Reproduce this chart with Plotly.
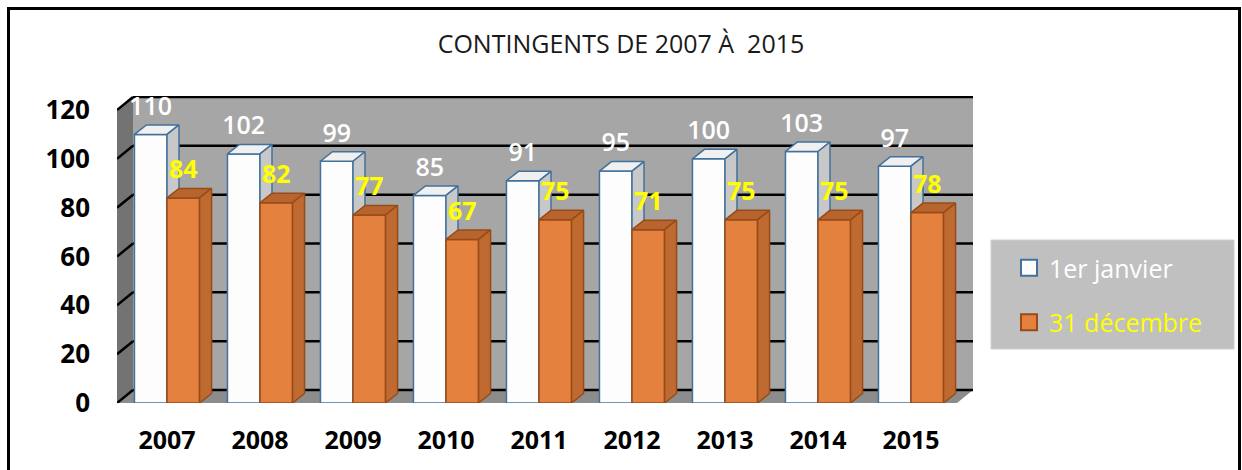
import plotly.graph_objects as go

years = ['2007', '2008', '2009', '2010', '2011', '2012', '2013', '2014', '2015']
janvier = [110, 102, 99, 85, 91, 95, 100, 103, 97]
decembre = [84, 82, 77, 67, 75, 71, 75, 75, 78]
y_ticks = [0, 20, 40, 60, 80, 100, 120]

# geometry (in axis units)
W, H = 1242, 470
PL, PR, PT, PB = 117, 973, 96, 403
PX_X = 93.0
PX_Y = (PB - 110) / 120.0
X0 = (PL - 167) / PX_X
X1 = (PR - 167) / PX_X
Y1 = (PB - PT) / PX_Y
DXW, DYW = 16 / PX_X, 13 / PX_Y      # wall depth
DXB, DYB = 12 / PX_X, 9.5 / PX_Y     # bar depth
BW = 0.35
LBL = 10.6

def polys(vals, off):
    fx, fy, tx, ty, sx, sy = [], [], [], [], [], []
    for i, v in enumerate(vals):
        xl = i + off - BW / 2
        xr = i + off + BW / 2
        fx += [xl, xr, xr, xl, xl, None]; fy += [0, 0, v, v, 0, None]
        tx += [xl, xr, xr + DXB, xl + DXB, xl, None]; ty += [v, v, v + DYB, v + DYB, v, None]
        sx += [xr, xr + DXB, xr + DXB, xr, xr, None]; sy += [0, DYB, v + DYB, v, 0, None]
    return (fx, fy), (tx, ty), (sx, sy)

fig = go.Figure()

def add_series(vals, off, cols, line):
    for (px, py), c in zip(polys(vals, off), cols):
        fig.add_trace(go.Scatter(x=px, y=py, mode='lines', fill='toself', fillcolor=c,
                                 line=dict(color=line, width=1.5), hoverinfo='skip',
                                 showlegend=False))

add_series(janvier, -BW / 2, ['#fdfdfd', '#f0f0f0', '#c8c8c8'], '#41719c')
add_series(decembre, BW / 2, ['#e5813f', '#b8642e', '#bf6a31'], '#984b17')

font = 'Open Sans'
fig.add_trace(go.Scatter(x=[i - BW / 2 for i in range(len(years))], y=[v + LBL for v in janvier],
                         mode='text', text=[str(v) for v in janvier], textposition='middle center',
                         textfont=dict(family=font, size=25, color='white', weight=600),
                         hoverinfo='skip', showlegend=False))
fig.add_trace(go.Scatter(x=[i + BW / 2 for i in range(len(years))], y=[v + LBL for v in decembre],
                         mode='text', text=[str(v) for v in decembre], textposition='middle center',
                         textfont=dict(family=font, size=25, color='#ffff00', weight='bold'),
                         hoverinfo='skip', showlegend=False))

# legend entries
fig.add_trace(go.Scatter(x=[None], y=[None], mode='markers', name='1er janvier', legendgroup='a',
                         marker=dict(symbol='square', size=16, color='#fdfdfd',
                                     line=dict(color='#41719c', width=2))))
fig.add_trace(go.Scatter(x=[None], y=[None], mode='markers',
                         name='<span style="color:#ffff00">31 décembre</span>', legendgroup='b',
                         marker=dict(symbol='square', size=16, color='#e5813f',
                                     line=dict(color='#984b17', width=2))))

shapes = []
# back wall
shapes.append(dict(type='rect', xref='x', yref='y', x0=X0 + DXW, x1=X1, y0=DYW, y1=120 + DYW,
                   fillcolor='#a6a6a6', line=dict(width=0), layer='below'))
# left wall
shapes.append(dict(type='path', xref='x', yref='y',
                   path=f'M {X0},0 L {X0 + DXW},{DYW} L {X0 + DXW},{120 + DYW} L {X0},120 Z',
                   fillcolor='#737373', line=dict(width=0), layer='below'))
# floor
shapes.append(dict(type='path', xref='x', yref='y',
                   path=f'M {X0},0 L {X0 + DXW},{DYW} L {X1},{DYW} L {X1 - DXW},0 Z',
                   fillcolor='#8c8c8c', line=dict(width=0), layer='below'))
for t in y_ticks:
    shapes.append(dict(type='line', xref='x', yref='y', x0=X0 + DXW, x1=X1, y0=t + DYW, y1=t + DYW,
                       line=dict(color='black', width=2.5), layer='below'))
    shapes.append(dict(type='line', xref='x', yref='y', x0=X0, x1=X0 + DXW, y0=t, y1=t + DYW,
                       line=dict(color='black', width=2.5), layer='below'))

def pxp(px):
    return (px - PL) / (PR - PL)

def pyp(py):
    return (PB - py) / (PB - PT)

# legend box
shapes.append(dict(type='rect', xref='paper', yref='paper', x0=pxp(991), x1=pxp(1234),
                   y0=pyp(349), y1=pyp(240), fillcolor='#c0c0c0', line=dict(color='#d0d0d0', width=1),
                   layer='below'))
# outer border
shapes.append(dict(type='rect', xref='paper', yref='paper', x0=pxp(8.5), x1=pxp(1239.5),
                   y0=pyp(480), y1=pyp(8.5), fillcolor='rgba(0,0,0,0)',
                   line=dict(color='black', width=3), layer='below'))

fig.update_layout(
    width=W, height=H,
    margin=dict(l=PL, r=W - PR, t=PT, b=H - PB, pad=0),
    paper_bgcolor='white', plot_bgcolor='rgba(0,0,0,0)',
    shapes=shapes,
    title=dict(text='CONTINGENTS DE 2007 À  2015', x=0.5, xref='container', xanchor='center',
               y=1 - 44 / H, yanchor='middle', yref='container',
               font=dict(family=font, size=25, color='#1a1a1a')),
    xaxis=dict(range=[X0, X1], tickvals=list(range(len(years))), ticktext=years,
               showgrid=False, zeroline=False, showline=False, ticks='',
               tickfont=dict(family=font, size=25, color='black', weight='bold'),
               ticklabelstandoff=20, fixedrange=True),
    yaxis=dict(range=[0, Y1], tickvals=y_ticks, showgrid=False, zeroline=False,
               showline=False, ticks='', ticklabelstandoff=26,
               tickfont=dict(family=font, size=26, color='black', weight='bold'), fixedrange=True),
    legend=dict(x=pxp(1009), y=pyp(245), xanchor='left', yanchor='top',
                bgcolor='rgba(0,0,0,0)', font=dict(family=font, size=25, color='white'),
                tracegroupgap=19, traceorder='grouped'),
    showlegend=True,
)

fig.write_html('out.html', config={'displayModeBar': False},
               post_script="document.body.style.margin='0';document.body.style.overflow='hidden';")
